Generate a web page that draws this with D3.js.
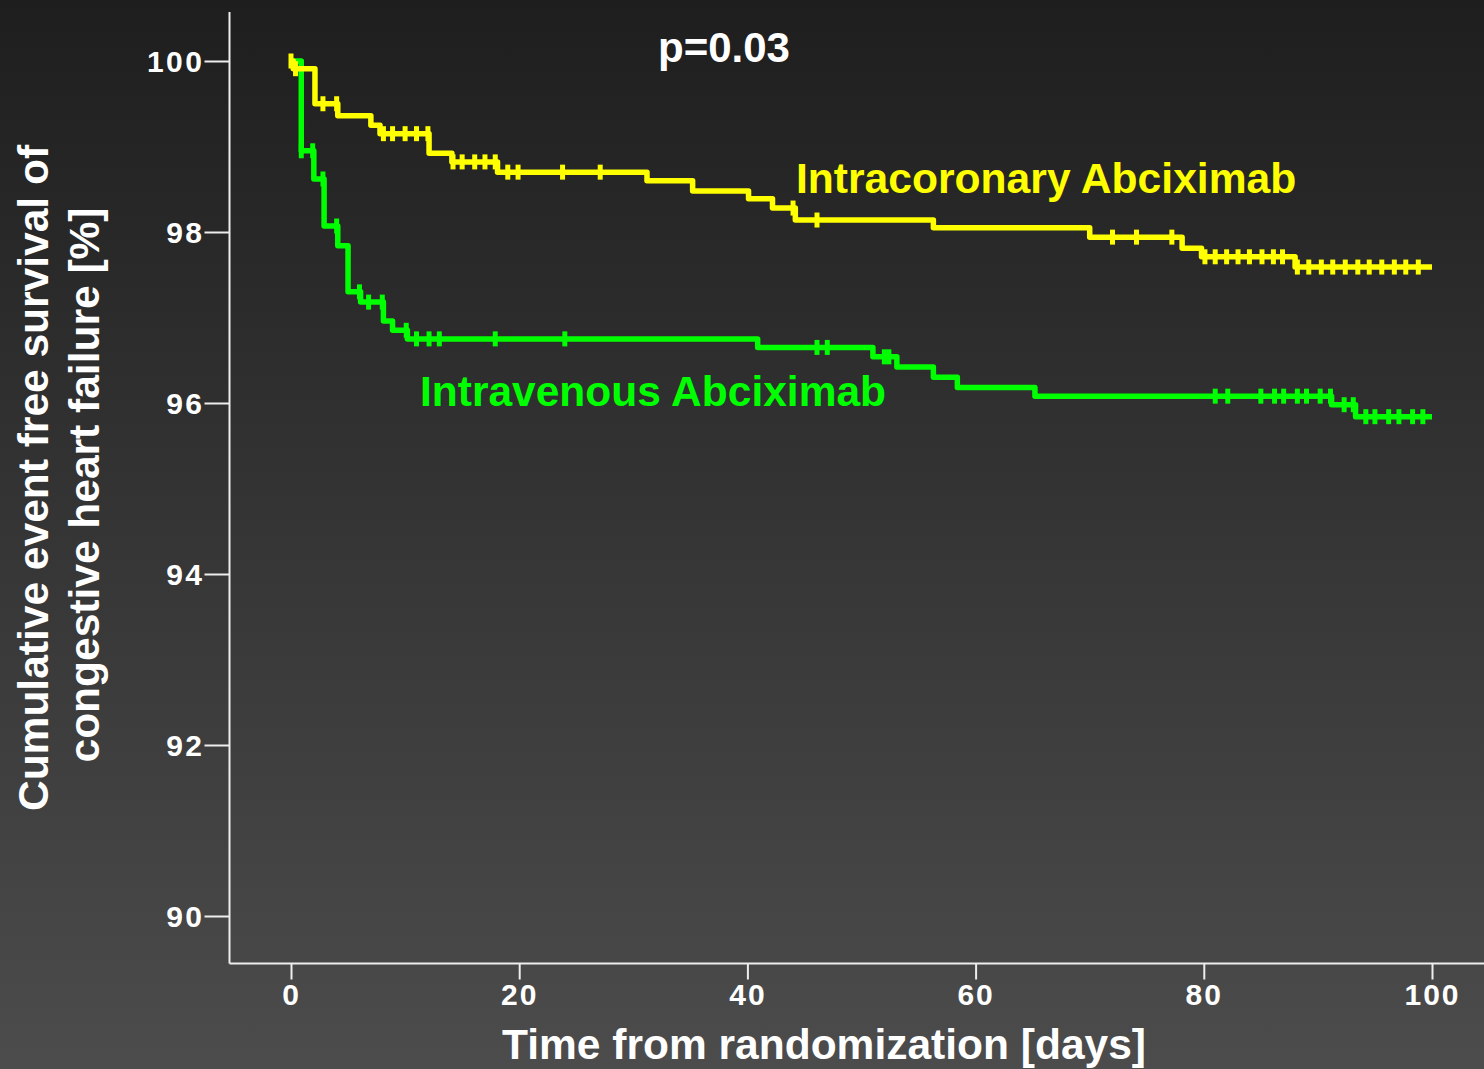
<!DOCTYPE html>
<html>
<head>
<meta charset="utf-8">
<script src="https://cdn.jsdelivr.net/npm/d3@7"></script>
<style>
  html, body { margin: 0; padding: 0; background: #1e1e1e; }
  svg { display: block; }
</style>
</head>
<body>
<div id="chart"></div>
<script>
// ---- Data ----
const xTicks = [0, 20, 40, 60, 80, 100];
const yTicks = [90, 92, 94, 96, 98, 100];

// Intracoronary Abciximab (yellow) – Kaplan-Meier step curve
const icTimes = [0, 0.2, 2.1, 4.1, 7.0, 7.8, 12.1, 14.1, 18.1, 31.2, 35.2, 40.1, 42.2, 44.2, 56.3, 70.0, 78.1, 79.8, 88.0, 100];
const icSurv  = [100, 99.91, 99.50, 99.36, 99.25, 99.15, 98.92, 98.82, 98.70, 98.60, 98.48, 98.39, 98.28, 98.14, 98.05, 97.94, 97.81, 97.71, 97.59, 97.59];
const icCensor = [0, 0.4, 2.8, 4.0, 8.1, 8.9, 10.0, 11.0, 12.0, 14.2, 15.0, 16.1, 17.0, 17.9, 19.0, 19.9, 23.8, 27.1, 44.0, 46.1,
  72.0, 74.1, 77.2, 80.1, 81.0, 82.0, 83.0, 84.0, 85.1, 86.1, 86.9, 88.2, 89.2, 90.3, 91.3, 92.4, 93.5, 94.5, 95.6, 96.7, 97.7, 98.8];

// Intravenous Abciximab (green)
const ivTimes = [0, 0.9, 2.0, 2.9, 4.1, 5.0, 6.1, 8.1, 8.9, 10.2, 40.9, 51.0, 53.1, 56.3, 58.4, 65.2, 91.2, 93.3, 100];
const ivSurv  = [100, 98.95, 98.62, 98.07, 97.84, 97.30, 97.18, 96.96, 96.85, 96.75, 96.65, 96.54, 96.42, 96.30, 96.18, 96.08, 95.98, 95.84, 95.84];
const ivCensor = [0.9, 1.9, 2.8, 4.0, 6.0, 6.8, 8.0, 10.1, 11.0, 12.1, 13.0, 17.9, 24.0, 46.1, 47.0, 52.0, 52.4,
  81.0, 82.1, 85.0, 86.2, 87.0, 88.2, 89.0, 90.2, 91.1, 92.3, 93.1, 94.2, 95.0, 96.2, 97.1, 98.3, 99.2];

const pText = "p=0.03";
const icLabel = "Intracoronary Abciximab";
const ivLabel = "Intravenous Abciximab";
const yTitle1 = "Cumulative event free survival of";
const yTitle2 = "congestive heart failure [%]";
const xTitle = "Time from randomization [days]";

// ---- Layout ----
const W = 1484, H = 1069;
const FONT = "'Liberation Sans', Arial, sans-serif";
const YELLOW = "#ffff00", GREEN = "#00ff00", AXIS = "#eeeeee";

const svg = d3.select("#chart").append("svg")
  .attr("width", W).attr("height", H);

const defs = svg.append("defs");
const grad = defs.append("linearGradient").attr("id", "bg")
  .attr("x1", 0).attr("y1", 0).attr("x2", 0).attr("y2", 1);
grad.append("stop").attr("offset", "0%").attr("stop-color", "#1e1e1e");
grad.append("stop").attr("offset", "100%").attr("stop-color", "#4c4c4c");
svg.append("rect").attr("width", W).attr("height", H).attr("fill", "url(#bg)");

const x = d3.scaleLinear().domain([0, 100]).range([291, 1432]);
const y = d3.scaleLinear().domain([90, 100]).range([916, 61]);

const axisX0 = 229.5, axisY0 = 963.5;

// Axis lines
svg.append("line").attr("x1", axisX0).attr("x2", axisX0).attr("y1", 12).attr("y2", axisY0)
  .attr("stroke", AXIS).attr("stroke-width", 2);
svg.append("line").attr("x1", axisX0).attr("x2", W).attr("y1", axisY0).attr("y2", axisY0)
  .attr("stroke", AXIS).attr("stroke-width", 2);

// Y axis
const gy = svg.append("g").attr("transform", `translate(${axisX0},0)`)
  .call(d3.axisLeft(y).tickValues(yTicks).tickSize(25).tickPadding(0).tickFormat(d3.format("d")));
gy.select(".domain").remove();
gy.selectAll(".tick line").attr("stroke", AXIS).attr("stroke-width", 2);
gy.selectAll(".tick text").attr("fill", "#ffffff")
  .style("font-family", FONT).style("font-size", "30px").style("font-weight", "bold")
  .style("letter-spacing", "2.5px").attr("dy", "0.36em");

// X axis
const gx = svg.append("g").attr("transform", `translate(0,${axisY0})`)
  .call(d3.axisBottom(x).tickValues(xTicks).tickSize(16).tickPadding(4).tickFormat(d3.format("d")));
gx.select(".domain").remove();
gx.selectAll(".tick line").attr("stroke", AXIS).attr("stroke-width", 2);
gx.selectAll(".tick text").attr("fill", "#ffffff")
  .style("font-family", FONT).style("font-size", "30px").style("font-weight", "bold")
  .style("letter-spacing", "2px");

// Curves
function series(times, surv) { return times.map((t, i) => ({ t: t, s: surv[i] })); }
const line = d3.line().x(d => x(d.t)).y(d => y(d.s)).curve(d3.curveStepAfter);
const bis = d3.bisector(d => d).right;
function survAt(times, surv, t) {
  const i = bis(times, t) - 1;
  return surv[Math.max(0, i)];
}

function drawCurve(times, surv, censor, color) {
  const g = svg.append("g");
  g.append("path").datum(series(times, surv))
    .attr("d", line).attr("fill", "none").attr("stroke", color)
    .attr("stroke-width", 5.5).attr("stroke-linejoin", "round");
  g.selectAll("line.c").data(censor).enter().append("line")
    .attr("class", "c")
    .attr("x1", d => x(d)).attr("x2", d => x(d))
    .attr("y1", d => y(survAt(times, surv, d)) - 7.5)
    .attr("y2", d => y(survAt(times, surv, d)) + 7.5)
    .attr("stroke", color).attr("stroke-width", 5);
}
drawCurve(ivTimes, ivSurv, ivCensor, GREEN);
drawCurve(icTimes, icSurv, icCensor, YELLOW);

// Texts
svg.append("text").attr("x", 724).attr("y", 62).attr("text-anchor", "middle")
  .attr("fill", "#ffffff").style("font-family", FONT).style("font-size", "42px").style("font-weight", "bold")
  .text(pText);
svg.append("text").attr("x", 796).attr("y", 193)
  .attr("fill", YELLOW).style("font-family", FONT).style("font-size", "42.6px").style("font-weight", "bold")
  .text(icLabel);
svg.append("text").attr("x", 420).attr("y", 406)
  .attr("fill", GREEN).style("font-family", FONT).style("font-size", "42.5px").style("font-weight", "bold")
  .text(ivLabel);
svg.append("text").attr("x", 824).attr("y", 1059).attr("text-anchor", "middle")
  .attr("fill", "#ffffff").style("font-family", FONT).style("font-size", "42.5px").style("font-weight", "bold")
  .text(xTitle);
svg.append("text").attr("transform", "translate(48,478) rotate(-90)").attr("text-anchor", "middle")
  .attr("fill", "#ffffff").style("font-family", FONT).style("font-size", "42.5px").style("font-weight", "bold")
  .text(yTitle1);
svg.append("text").attr("transform", "translate(99,485) rotate(-90)").attr("text-anchor", "middle")
  .attr("fill", "#ffffff").style("font-family", FONT).style("font-size", "42.5px").style("font-weight", "bold")
  .text(yTitle2);
</script>
</body>
</html>
